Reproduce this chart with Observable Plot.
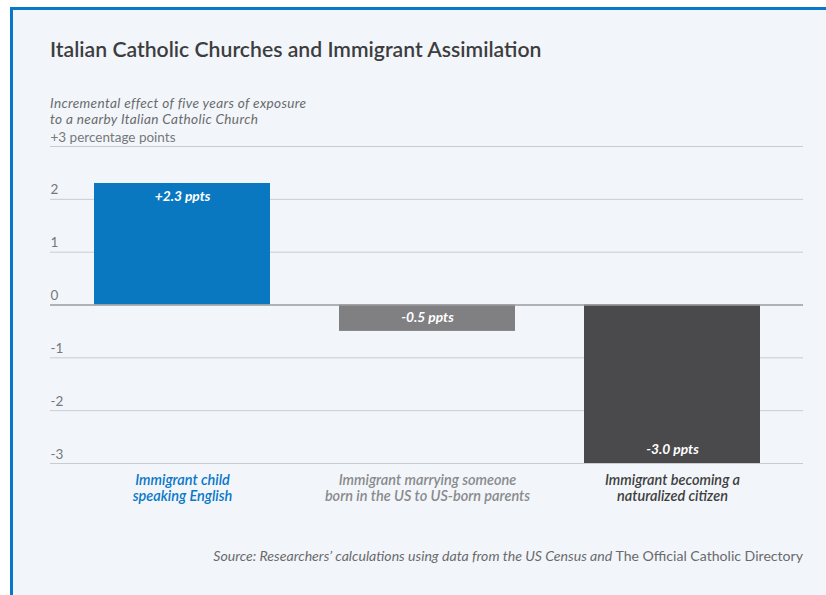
<!DOCTYPE html>
<html>
<head>
<meta charset="utf-8">
<script src="https://cdn.jsdelivr.net/npm/d3@7"></script>
<script src="https://cdn.jsdelivr.net/npm/@observablehq/plot@0.6"></script>
<style>
  html, body { margin: 0; padding: 0; background: #ffffff; width: 826px; height: 595px; overflow: hidden; }
  body { position: relative; font-family: Lato, "Open Sans", sans-serif; }
  .frame { position: absolute; left: 10px; top: 7px; right: 0; bottom: 0;
           border-left: 3px solid #0a78c8; border-top: 3px solid #0a78c8; background: #f2f6fa; }
  .title { position: absolute; left: 50px; top: 36px; font-size: 21.2px; font-weight: 600; color: #3d3d3f; white-space: nowrap; }
  .subtitle { position: absolute; left: 50px; top: 96px; font-size: 13.6px; letter-spacing: 0.35px; font-style: italic; color: #6a6a6d; line-height: 15.5px; white-space: nowrap; }
  .caption { position: absolute; right: 23px; top: 547px; font-size: 14.1px; color: #6a6a6d; white-space: nowrap; }
  .caption i { font-style: italic; }
  #chart { position: absolute; left: 0; top: 130px; }
</style>
</head>
<body>
<div class="frame"></div>
<div class="title">Italian Catholic Churches and Immigrant Assimilation</div>
<div class="subtitle">Incremental effect of five years of exposure<br>to a nearby Italian Catholic Church</div>
<div class="caption"><i>Source: Researchers’ calculations using data from the US Census and</i> The Official Catholic Directory</div>
<div id="chart"></div>
<script>
const categories = [
  "Immigrant child\nspeaking English",
  "Immigrant marrying someone\nborn in the US to US-born parents",
  "Immigrant becoming a\nnaturalized citizen"
];
const values = [2.3, -0.5, -3.0];
const valueLabels = ["+2.3 ppts", "-0.5 ppts", "-3.0 ppts"];
const barColors = ["#0a78c0", "#808083", "#4a4a4c"];
const labelColors = ["#0a78c8", "#8a8a8d", "#3f3f41"];
const yTicks = [-3, -2, -1, 0, 1, 2, 3];
const yTickLabels = ["-3", "-2", "-1", "0", "1", "2", "+3 percentage points"];

const data = categories.map((c, i) => ({
  category: c, value: values[i], label: valueLabels[i],
  barColor: barColors[i], labelColor: labelColors[i]
}));
const ticks = yTicks.map((t, i) => ({ t, label: yTickLabels[i] }));

const chart = Plot.plot({
  width: 826,
  height: 390,
  marginLeft: 50,
  marginRight: 23,
  marginTop: 16,
  marginBottom: 57,
  style: { background: "transparent", fontFamily: "Lato, 'Open Sans', sans-serif", overflow: "visible" },
  x: { type: "band", domain: categories, paddingInner: 0.283, paddingOuter: 0.175, axis: null },
  y: { domain: [-3, 3], axis: null },
  color: { type: "identity" },
  marks: [
    Plot.ruleY(ticks.filter(d => d.t !== 0), { y: "t", stroke: "#c9cbcf", strokeWidth: 1 }),
    Plot.barY(data, { x: "category", y: "value", fill: "barColor" }),
    Plot.ruleY([0], { stroke: "#9a9b9e", strokeWidth: 1.5 }),
    Plot.text(ticks, { y: "t", text: "label", frameAnchor: "left", textAnchor: "start", lineAnchor: "bottom", dy: -5, fill: "#77787b", fontSize: 13.5 }),
    Plot.text(data.filter(d => d.value >= 0), { x: "category", y: "value", text: "label", dy: 13, fill: "white", fontSize: 13.8, fontWeight: "bold", fontStyle: "italic" }),
    Plot.text(data.filter(d => d.value < 0), { x: "category", y: "value", text: "label", dy: -14, fill: "white", fontSize: 13.8, fontWeight: "bold", fontStyle: "italic" }),
    Plot.text(data, { x: "category", y: () => -3, text: "category", fill: "labelColor", lineAnchor: "top", dy: 10, lineHeight: 1.1, fontSize: 14.5, fontWeight: 600, fontStyle: "italic" })
  ]
});
document.getElementById("chart").appendChild(chart);
</script>
</body>
</html>
